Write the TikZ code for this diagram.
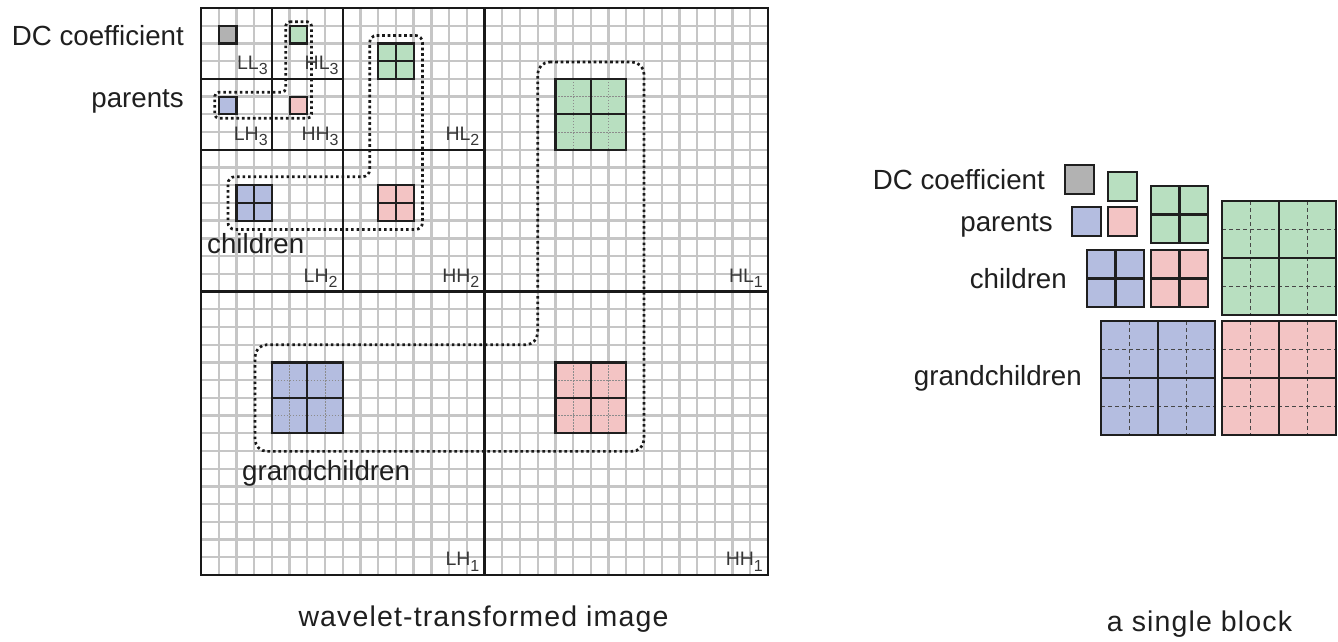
\documentclass[tikz,border=0pt]{standalone}
\usepackage{fontspec}
\setmainfont{Liberation Sans}
\newfontfamily\botfont[LetterSpace=4]{Liberation Sans}
\definecolor{cgreen}{RGB}{184,223,192}
\definecolor{cblue}{RGB}{180,189,224}
\definecolor{cpink}{RGB}{243,196,196}
\definecolor{cgray}{RGB}{178,178,178}
\definecolor{gridgray}{RGB}{198,198,198}
\definecolor{lblgray}{RGB}{55,55,55}
\tikzset{
  gridln/.style={gridgray, line width=2.3pt},
  bandln/.style={black!90, line width=2.2pt},
  cellb/.style={draw=black!88, line width=2.2pt},
  innerdot/.style={black!45, line width=1pt, dash pattern=on 1.2pt off 1.8pt},
  dotline/.style={black!90, line width=2.7pt, dash pattern=on 2.6pt off 2.9pt, rounded corners=#1},
  dotline/.default=6pt,
  sblab/.style={anchor=base east, inner sep=0pt, text=lblgray, font=\fontsize{19.5pt}{20pt}\selectfont},
  lab/.style={inner sep=0pt, text=black!88, font=\fontsize{27.7pt}{30pt}\selectfont},
  botlab/.style={anchor=base, inner sep=0pt, text=black!88, font=\fontsize{28.5pt}{30pt}\botfont},
  rb/.style={draw=black!88, line width=2.8pt},
  rbin/.style={black!88, line width=2.5pt},
  rbdash/.style={black!72, line width=1.6pt, dash pattern=on 4pt off 3pt},
}
\newcommand\sbx[1]{\raisebox{-5.5pt}{\fontsize{16pt}{16pt}\selectfont #1}}
% grid cells
\newcommand\gcellA[3]{\filldraw[fill=#3, cellb] (#1,#2) rectangle ++(1,1);}
\newcommand\gcellB[3]{\fill[#3] (#1,#2) rectangle ++(2,2);
  \draw[cellb] ({#1+1},#2) -- ++(0,2) (#1,{#2+1}) -- ++(2,0);
  \draw[cellb] (#1,#2) rectangle ++(2,2);}
\newcommand\gcellD[3]{\fill[#3] (#1,#2) rectangle ++(4,4);
  \draw[innerdot] ({#1+1},#2) -- ++(0,4) ({#1+3},#2) -- ++(0,4) (#1,{#2+1}) -- ++(4,0) (#1,{#2+3}) -- ++(4,0);
  \draw[cellb] ({#1+2},#2) -- ++(0,4) (#1,{#2+2}) -- ++(4,0);
  \draw[cellb] (#1,#2) rectangle ++(4,4);}
% right block cells (px)
\newcommand\rcellA[3]{\filldraw[fill=#3, rb] (#1,#2) rectangle ++(29,29);}
\newcommand\rcellB[3]{\fill[#3] (#1,#2) rectangle ++(57,57);
  \draw[rbin] ({#1+28.5},#2) -- ++(0,57) (#1,{#2+28.5}) -- ++(57,0);
  \draw[rb] (#1,#2) rectangle ++(57,57);}
\newcommand\rcellD[3]{\fill[#3] (#1,#2) rectangle ++(114,114);
  \draw[rbdash] ({#1+28.5},#2) -- ++(0,114) ({#1+85.5},#2) -- ++(0,114) (#1,{#2+28.5}) -- ++(114,0) (#1,{#2+85.5}) -- ++(114,0);
  \draw[rbin] ({#1+57},#2) -- ++(0,114) (#1,{#2+57}) -- ++(114,0);
  \draw[rb] (#1,#2) rectangle ++(114,114);}
\begin{document}
\begin{tikzpicture}[x=1pt, y=-1pt]
\useasboundingbox (0,0) rectangle (1338,641);
\fill[white] (0,0) rectangle (1338,641);
\begin{scope}[shift={(201,8)}, x=17.72pt, y=-17.72pt]
  % light grid
  \foreach \i in {0,...,32} {
    \draw[gridln] (\i,0) -- (\i,32);
    \draw[gridln] (0,\i) -- (32,\i);
  }
  % subband lines
  \draw[bandln] (16,0) -- (16,32) (0,16) -- (32,16);
  \draw[bandln] (8,0) -- (8,16) (0,8) -- (16,8);
  \draw[bandln] (4,0) -- (4,8) (0,4) -- (8,4);
  \draw[bandln] (0,0) rectangle (32,32);
  % coefficients
  \gcellA{1}{1}{cgray}
  \gcellA{5}{1}{cgreen}
  \gcellA{1}{5}{cblue}
  \gcellA{5}{5}{cpink}
  \gcellB{10}{2}{cgreen}
  \gcellB{2}{10}{cblue}
  \gcellB{10}{10}{cpink}
  \gcellD{20}{4}{cgreen}
  \gcellD{4}{20}{cblue}
  \gcellD{20}{20}{cpink}
  % dotted groups
  \draw[dotline=4pt] (4.78,0.78) -- (6.24,0.78) -- (6.24,6.22) -- (0.78,6.22) -- (0.78,4.75) -- (4.78,4.75) -- cycle;
  \draw[dotline=7pt] (9.52,1.55) -- (12.5,1.55) -- (12.5,12.5) -- (1.52,12.5) -- (1.52,9.52) -- (9.52,9.52) -- cycle;
  \draw[dotline=12pt] (19,3.05) -- (25,3.05) -- (25,25.02) -- (3.05,25.02) -- (3.05,19) -- (19,19) -- cycle;
  % subband labels
  \node[sblab] (lLL3) at ([xshift=-4pt,yshift=9.5pt]4,4) {LL\sbx{3}};
  \node[sblab] (lHL3) at ([xshift=-4pt,yshift=9.5pt]8,4) {HL\sbx{3}};
  \node[sblab] (lLH3) at ([xshift=-4pt,yshift=9.5pt]4,8) {LH\sbx{3}};
  \node[sblab] (lHH3) at ([xshift=-4pt,yshift=9.5pt]8,8) {HH\sbx{3}};
  \node[sblab] (lHL2) at ([xshift=-5pt,yshift=9.5pt]16,8) {HL\sbx{2}};
  \node[sblab] (lLH2) at ([xshift=-5pt,yshift=9.5pt]8,16) {LH\sbx{2}};
  \node[sblab] (lHH2) at ([xshift=-5pt,yshift=9.5pt]16,16) {HH\sbx{2}};
  \node[sblab] (lHL1) at ([xshift=-5pt,yshift=9.5pt]32,16) {HL\sbx{1}};
  \node[sblab] (lLH1) at ([xshift=-5pt,yshift=9.5pt]16,32) {LH\sbx{1}};
  \node[sblab] (lHH1) at ([xshift=-5pt,yshift=9.5pt]32,32) {HH\sbx{1}};
\end{scope}
% left labels
\node[lab, anchor=base east] (dcL) at (184,45) {DC coefficient};
\node[lab, anchor=base east] (parL) at (184,107) {parents};
\node[lab, anchor=base west] (chL) at (207,253) {children};
\node[lab, anchor=base west] (gcL) at (242,480) {grandchildren};
% right block
\rcellA{1065}{165}{cgray}
\rcellA{1108}{172}{cgreen}
\rcellA{1072}{207}{cblue}
\rcellA{1108}{207}{cpink}
\rcellB{1151}{186}{cgreen}
\rcellB{1087}{250}{cblue}
\rcellB{1151}{250}{cpink}
\rcellD{1222}{201}{cgreen}
\rcellD{1101}{321}{cblue}
\rcellD{1222}{321}{cpink}
\node[lab, anchor=base east] (dcR) at (1045,189) {DC coefficient};
\node[lab, anchor=base east] (parR) at (1053,231) {parents};
\node[lab, anchor=base east] (chR) at (1067,288) {children};
\node[lab, anchor=base east] (gcR) at (1082,385) {grandchildren};
% captions
\node[botlab] (capL) at (483.5,626) {wavelet-transformed image};
\node[botlab] (capR) at (1199.5,631) {a single block};
\end{tikzpicture}
\end{document}
